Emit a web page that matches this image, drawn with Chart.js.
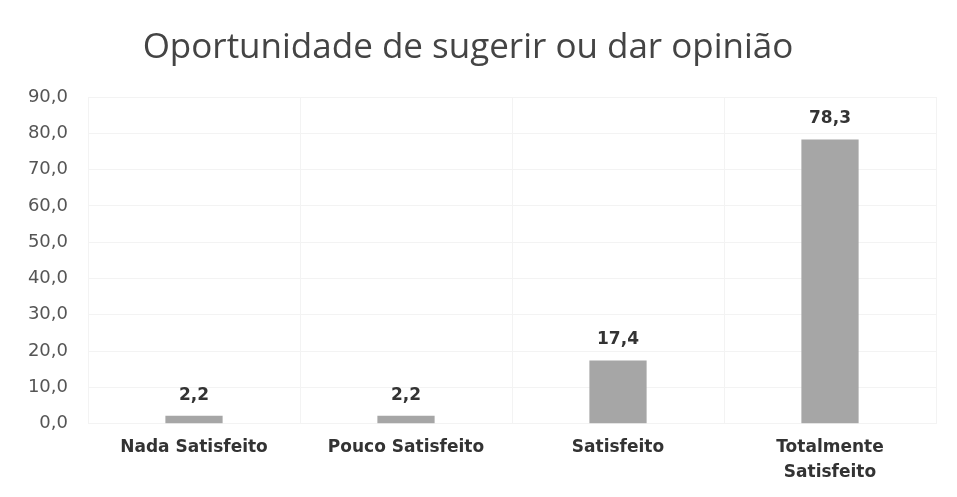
<!DOCTYPE html>
<html lang="pt">
<head>
<meta charset="utf-8">
<title>Oportunidade de sugerir ou dar opinião</title>
<script src="https://cdn.jsdelivr.net/npm/chart.js@4.4.1/dist/chart.umd.min.js"></script>
<style>
    html, body { margin: 0; padding: 0; background: #fff; }
    #wrap { width: 957px; height: 497px; }
</style>
</head>
<body>
<div id="wrap"><canvas id="grafico" width="957" height="497"></canvas></div>
<script>
// Dados do gráfico
const categorias = ['Nada Satisfeito', 'Pouco Satisfeito', 'Satisfeito', ['Totalmente', 'Satisfeito']];
const valores = [2.2, 2.2, 17.4, 78.3];
const ticksY = [0, 10, 20, 30, 40, 50, 60, 70, 80, 90];

// Formatação com vírgula decimal
function fmt(v) {
    return v.toFixed(1).replace('.', ',');
}

// Rótulos de valor acima das barras
const rotulos = {
    id: 'rotulos',
    afterDatasetsDraw(chart) {
        const ctx = chart.ctx;
        const meta = chart.getDatasetMeta(0);
        ctx.save();
        ctx.font = 'bold 17px "DejaVu Sans"';
        ctx.fillStyle = '#333';
        ctx.textAlign = 'center';
        ctx.textBaseline = 'bottom';
        meta.data.forEach((bar, i) => {
            ctx.fillText(fmt(valores[i]), bar.x, bar.y - 12);
        });
        ctx.restore();
    }
};

new Chart(document.getElementById('grafico'), {
    type: 'bar',
    data: {
        labels: categorias,
        datasets: [{
            data: valores,
            backgroundColor: '#a6a6a6',
            categoryPercentage: 1,
            barPercentage: 0.27
        }]
    },
    options: {
        responsive: false,
        animation: false,
        layout: { padding: { top: 0, right: 21, bottom: 0, left: 0 } },
        plugins: {
            legend: { display: false },
            tooltip: { enabled: false },
            title: {
                display: true,
                text: 'Oportunidade de sugerir ou dar opinião',
                color: '#444',
                font: { family: 'Open Sans', size: 35, weight: 'normal', lineHeight: 1.2 },
                padding: { top: 27, bottom: 28 }
            }
        },
        scales: {
            x: {
                grid: { color: '#f3f3f3', drawTicks: false },
                border: { display: false },
                ticks: {
                    color: '#333',
                    font: { family: 'DejaVu Sans', size: 17, weight: 'bold', lineHeight: 1.45 },
                    padding: 12,
                    maxRotation: 0
                }
            },
            y: {
                min: 0,
                max: 90,
                afterBuildTicks(axis) {
                    axis.ticks = ticksY.map(v => ({ value: v }));
                },
                afterFit(axis) {
                    axis.width = 88;
                },
                grid: { color: '#f3f3f3', drawTicks: false },
                border: { display: false },
                ticks: {
                    color: '#555',
                    font: { family: 'DejaVu Sans', size: 18 },
                    padding: 20,
                    callback: v => fmt(v)
                }
            }
        }
    },
    plugins: [rotulos]
});
</script>
</body>
</html>
